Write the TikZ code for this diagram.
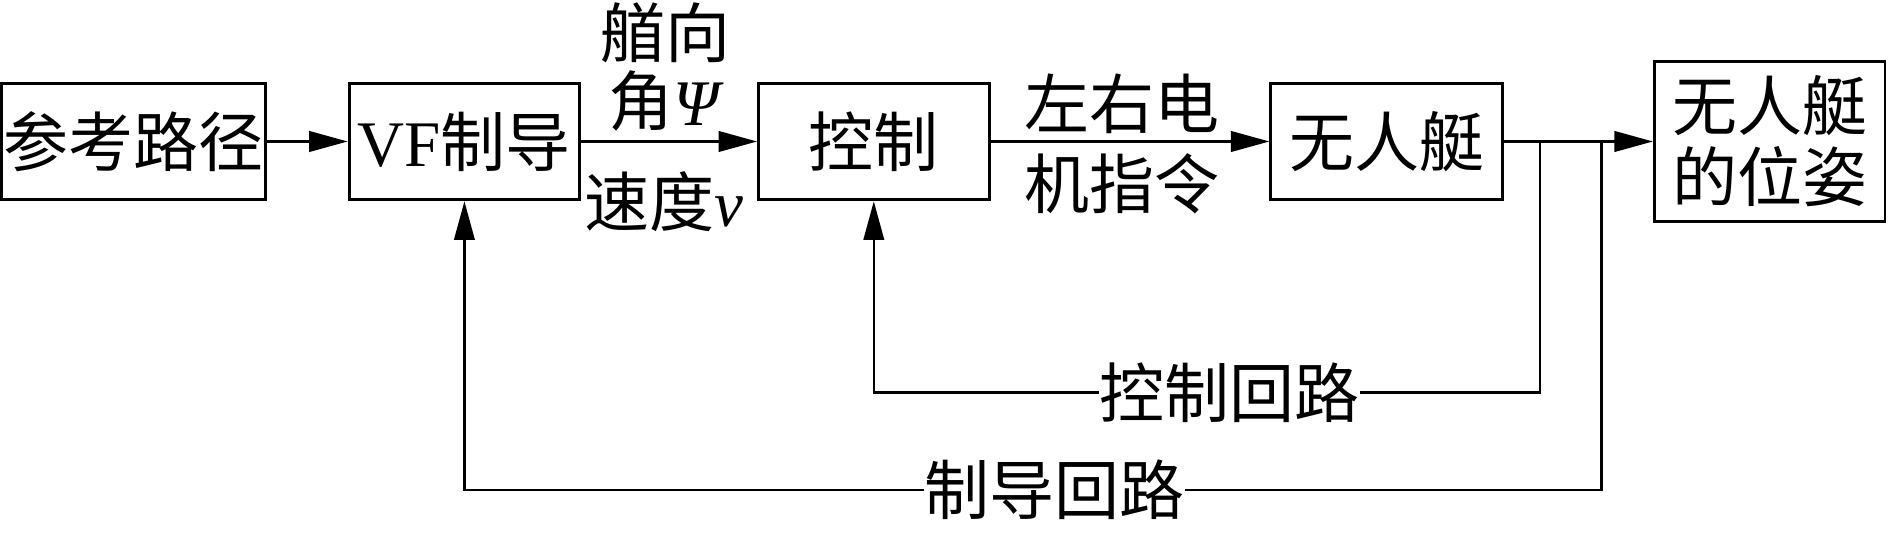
\documentclass[tikz,border=0pt]{standalone}
\usepackage{fontspec}
\setmainfont{Liberation Serif}
\newfontfamily\cjkfont{Noto Sans CJK SC}
\newcommand\zhs[1]{{\cjkfont #1}}
\usetikzlibrary{arrows.meta}
\begin{document}
\begin{tikzpicture}[x=0.5pt,y=-0.5pt,
  blk/.style={draw, line width=1.2pt, inner sep=0pt, align=center, font=\fontsize{27}{30}\selectfont},
  lbl/.style={inner sep=0pt, align=center, font=\fontsize{27}{28}\selectfont},
  flow/.style={line width=1.1pt, -{Triangle[length=16pt,width=8.5pt]}},
  fb/.style={line width=0.9pt},
  fbarrow/.style={line width=0.9pt, -{Triangle[length=16pt,width=8.5pt]}}]
\useasboundingbox (0,0) rectangle (1568,445.2);
% blocks
\node[blk, minimum width=109.5pt, minimum height=48.5pt] (A) at (111,117.5) {\zhs{参考路径}};
\node[blk, minimum width=95.75pt, minimum height=48.5pt] (B) at (385.7,117.5) {VF\zhs{制导}};
\node[blk, minimum width=95.75pt, minimum height=48.5pt] (C) at (725.7,117.5) {\zhs{控制}};
\node[blk, minimum width=96.25pt, minimum height=48.5pt] (D) at (1151.7,117.5) {\zhs{无人艇}};
\node[blk, minimum width=95.75pt, minimum height=66.5pt, font=\fontsize{27}{29.4}\selectfont] (E) at (1469.7,117.5) {\zhs{无人艇}\\\zhs{的位姿}};
% labels
\node[lbl] (hl) at (553,55.5) {\zhs{艏向}\\\zhs{角}\textit{Ψ}};
\node[lbl] (vl) at (551,167.5) {\zhs{速度}\textit{v}};
\node[lbl, font=\fontsize{27}{33.5}\selectfont] (ml) at (932,119.5) {\zhs{左右电}\\\zhs{机指令}};
\node[lbl] (cl) at (1021,326) {\zhs{控制回路}};
\node[lbl] (gl) at (876,407) {\zhs{制导回路}};
% forward path
\draw[flow] (A.east) -- (B.west);
\draw[flow] (B.east) -- (C.west);
\draw[flow] (C.east) -- (D.west);
\draw[flow] (D.east) -- (E.west);
% feedback
\coordinate (b1) at (1279,117.5);
\coordinate (b2) at (1330,117.5);
\draw[fb] (b1) |- (cl.east);
\draw[fbarrow] (cl.west) -| (C.south);
\draw[fb] (b2) |- (gl.east);
\draw[fbarrow] (gl.west) -| (B.south);
\end{tikzpicture}
\end{document}
